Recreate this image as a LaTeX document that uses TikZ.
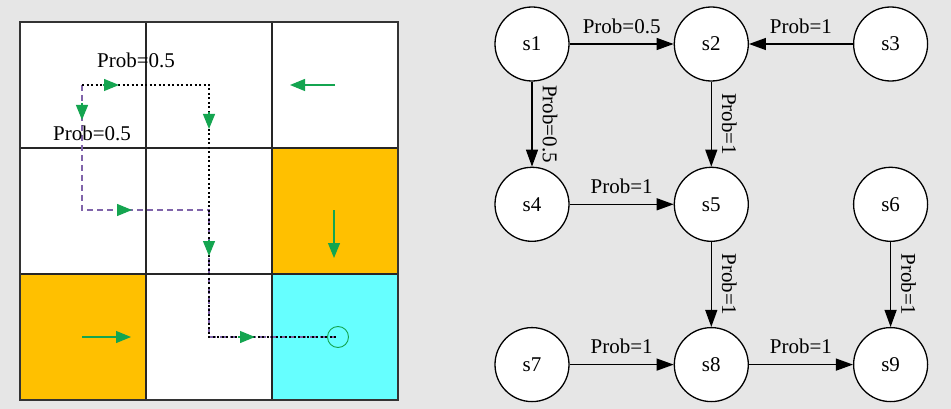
\documentclass[tikz,border=0pt]{standalone}
\usepackage{fontspec}
\setmainfont{Liberation Serif}
\usepackage{tikz}
\usetikzlibrary{arrows.meta,positioning}
\definecolor{bgGray}{RGB}{230,230,230}
\definecolor{cellOrange}{RGB}{255,192,0}
\definecolor{cellCyan}{RGB}{102,255,255}
\definecolor{actGreen}{RGB}{20,165,80}
\definecolor{pathPurple}{RGB}{128,100,170}
\tikzset{
  gridline/.style={line width=1.4pt,black!85},
  optpath/.style={dash pattern=on 2pt off 2.5pt,line width=2pt,black},
  altpath/.style={dash pattern=on 6pt off 4pt,line width=1.4pt,pathPurple},
  gtip/.style={actGreen,line width=1.2pt,-{Triangle[length=15pt,width=12pt]}},
  plabel/.style={font=\fontsize{21}{24}\selectfont,inner sep=0pt},
  snode/.style={draw,circle,fill=white,line width=1.3pt,minimum size=74pt,
                inner sep=0pt,font=\fontsize{21}{24}\selectfont},
  arr/.style={-{Triangle[length=17pt,width=12pt]},line width=1.3pt},
  elab/.style={font=\fontsize{21}{24}\selectfont,inner sep=10pt},
}

\begin{document}
\begin{tikzpicture}[x=1pt,y=-1pt,node distance=85pt and 104pt]
  \fill[bgGray] (0,0) rectangle (951,409);
  \useasboundingbox (0,0) rectangle (951,409);

  % grid world
  \fill[white] (20,22) rectangle (398,400);
  \fill[cellOrange] (272,148) rectangle (398,274);
  \fill[cellOrange] (20,274) rectangle (146,400);
  \fill[cellCyan] (272,274) rectangle (398,400);
  \foreach \v in {146,272}{
    \draw[gridline] (\v,22) -- (\v,400);
    \draw[gridline] (20,\v+2) -- (398,\v+2);
  }
  \draw[line width=2pt,black!80] (20,22) rectangle (398,400);

  % policy arrows
  \draw[gtip] (335,85) -- (290,85);
  \draw[gtip] (334,210) -- (334,258);
  \draw[gtip] (82,337) -- (131,337);

  % trajectories
  \draw[altpath] (82,85) -- (82,210) -- (209,210) -- (209,337) -- (338,337);
  \draw[optpath] (82,85) -- (209,85) -- (209,337) -- (338,337);
  \draw[gtip] (103,85) -- (119,85);
  \draw[gtip] (82,103) -- (82,120);
  \draw[gtip] (209,112) -- (209,129);
  \draw[gtip] (117,210) -- (132,210);
  \draw[gtip] (209,240) -- (209,256);
  \draw[gtip] (238,337) -- (255,337);
  \draw[actGreen,line width=0.9pt] (338,337) circle (10.5);

  \node[plabel] (ptop)  at (136,60)  {Prob=0.5};
  \node[plabel] (pleft) at (92,133)  {Prob=0.5};

  % state graph
  \node[snode] at (532,44) (s1) {s1};
  \node[snode,right=of s1] (s2) {s2};
  \node[snode,right=of s2] (s3) {s3};
  \node[snode,below=of s1] (s4) {s4};
  \node[snode,right=of s4] (s5) {s5};
  \node[snode,right=of s5] (s6) {s6};
  \node[snode,below=of s4] (s7) {s7};
  \node[snode,right=of s7] (s8) {s8};
  \node[snode,right=of s8] (s9) {s9};

  \draw[arr] (s1) -- node[elab,above]{Prob=0.5} (s2);
  \draw[arr] (s3) -- node[elab,above]{Prob=1} (s2);
  \draw[arr] (s1) -- node[elab,anchor=south,rotate=-90]{Prob=0.5} (s4);
  \draw[arr] (s2) -- node[elab,anchor=south,rotate=-90]{Prob=1} (s5);
  \draw[arr] (s4) -- node[elab,above]{Prob=1} (s5);
  \draw[arr] (s5) -- node[elab,anchor=south,rotate=-90]{Prob=1} (s8);
  \draw[arr] (s6) -- node[elab,anchor=south,rotate=-90]{Prob=1} (s9);
  \draw[arr] (s7) -- node[elab,above]{Prob=1} (s8);
  \draw[arr] (s8) -- node[elab,above]{Prob=1} (s9);
\end{tikzpicture}
\end{document}
